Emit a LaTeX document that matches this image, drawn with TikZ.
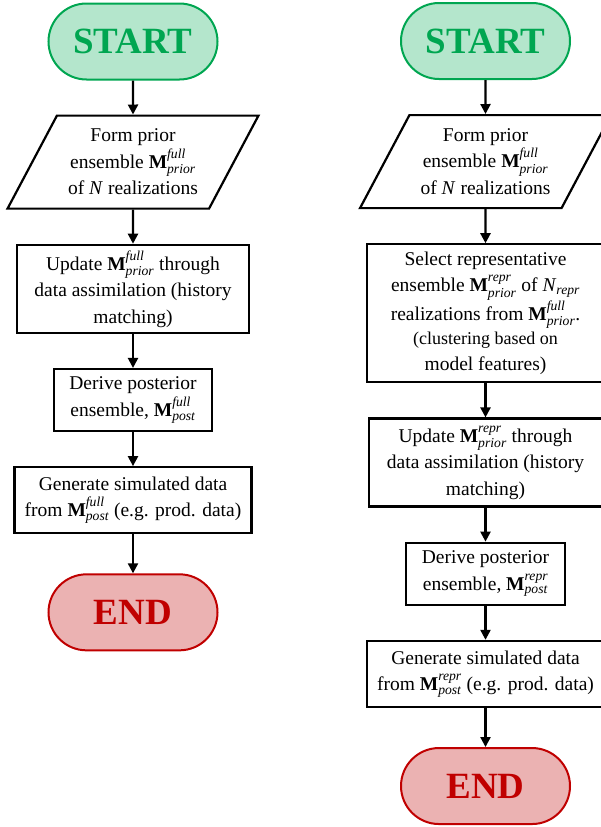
\documentclass[tikz,border=0pt]{standalone}
\usepackage{amsmath}
\usepackage{fontspec}
\setmainfont{Liberation Serif}
\usepackage{tikz}
\usetikzlibrary{arrows.meta,positioning,shapes.geometric}
\definecolor{stgreen}{RGB}{0,166,81}
\definecolor{stfill}{RGB}{180,230,204}
\definecolor{endred}{RGB}{192,0,0}
\definecolor{endfill}{RGB}{235,178,178}
\newcommand{\ensM}[2]{\textbf{M}$^{\text{\itshape #1}}_{\text{\itshape #2}}$}

\begin{document}
\begin{tikzpicture}[x=1pt,y=1pt,
  node distance=34pt,
  every node/.style={font=\fontsize{19.5}{26.5}\selectfont},
  terminal/.style={rounded corners=38pt,line width=2pt,minimum width=169pt,
     minimum height=76pt,font=\fontsize{37}{40}\selectfont\bfseries},
  startbox/.style={terminal,draw=stgreen,fill=stfill,text=stgreen},
  endbox/.style={terminal,draw=endred,fill=endfill,text=endred},
  inbox/.style={trapezium,trapezium left angle=62,trapezium right angle=118,
     draw,line width=2.2pt,minimum height=93pt,align=center,
     inner xsep=-7.5pt,inner ysep=2pt},
  procbox/.style={rectangle,draw,line width=2.2pt,align=center,inner sep=2pt},
  flow/.style={-{Triangle[length=10pt,width=10pt]},line width=2.2pt}
]
\useasboundingbox (0,0) rectangle (601,-827);
% full ensemble
\node[startbox] (startA) at (133,-41.5) {START};
\node[inbox,below=34pt of startA] (formA) {Form prior\\ ensemble \ensM{full}{prior}\\ of \textit{N} realizations};
\node[procbox,minimum width=232pt,minimum height=88pt,below=of formA] (updA)
  {Update \ensM{full}{prior} through\\ data assimilation (history\\ matching)};
\node[procbox,minimum width=158pt,minimum height=62pt,below=of updA] (derA)
  {Derive posterior\\ ensemble, \ensM{full}{post}};
\node[procbox,minimum width=237pt,minimum height=66pt,below=of derA] (genA)
  {Generate simulated data\\ from \ensM{full}{post} (e.g. prod. data)};
\node[endbox,below=39pt of genA] (endA) {END};
\draw[flow] (startA) -- (formA);
\draw[flow] (formA) -- (updA);
\draw[flow] (updA) -- (derA);
\draw[flow] (derA) -- (genA);
\draw[flow] (genA) -- (endA);
% representative ensemble
\node[startbox] (startB) at (485.5,-41) {START};
\node[inbox,below=34pt of startB] (formB) {Form prior\\ ensemble \ensM{full}{prior}\\ of \textit{N} realizations};
\node[procbox,minimum width=237pt,minimum height=138pt,below=of formB] (selB)
  {Select representative\\ ensemble \ensM{repr}{prior} of \textit{N}$_{\text{\itshape repr}}$\\
   realizations from \ensM{full}{prior}.\\[-3pt]
   \fontsize{18}{21}\selectfont (clustering based on\\ model features)};
\node[procbox,minimum width=233pt,minimum height=88pt,below=of selB] (updB)
  {Update \ensM{repr}{prior} through\\ data assimilation (history\\ matching)};
\node[procbox,minimum width=159pt,minimum height=62pt,below=of updB] (derB)
  {Derive posterior\\ ensemble, \ensM{repr}{post}};
\node[procbox,minimum width=237pt,minimum height=66pt,below=of derB] (genB)
  {Generate simulated data\\ from \ensM{repr}{post} (e.g. prod. data)};
\node[endbox,below=39pt of genB] (endB) {END};
\draw[flow] (startB) -- (formB);
\draw[flow] (formB) -- (selB);
\draw[flow] (selB) -- (updB);
\draw[flow] (updB) -- (derB);
\draw[flow] (derB) -- (genB);
\draw[flow] (genB) -- (endB);
\end{tikzpicture}
\end{document}
